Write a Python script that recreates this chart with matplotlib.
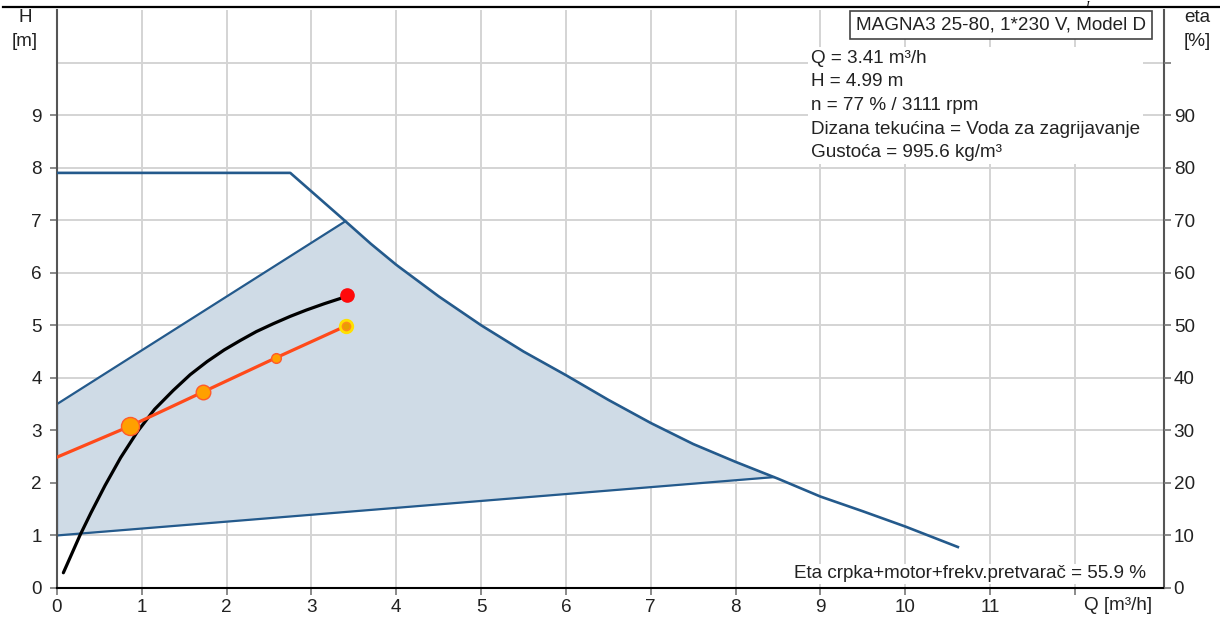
import matplotlib.pyplot as plt
from matplotlib.lines import Line2D

plt.rcParams['font.family'] = ['Liberation Sans', 'DejaVu Sans']

# max curve (H vs Q)
max_q = [0.0, 2.75, 3.40, 3.7, 4.0, 4.5, 5.0, 5.5, 6.0, 6.5, 7.0, 7.5, 8.0, 8.5, 9.0, 9.5, 10.0, 10.62]
max_h = [7.9, 7.9, 6.98, 6.55, 6.15, 5.55, 5.0, 4.5, 4.05, 3.58, 3.14, 2.74, 2.40, 2.08, 1.74, 1.46, 1.17, 0.78]

# operating area (shaded polygon)
area_q = [0.0, 0.0, 3.40, 3.7, 4.0, 4.5, 5.0, 5.5, 6.0, 6.5, 7.0, 7.5, 8.0, 8.45]
area_h = [1.0, 3.5, 6.98, 6.55, 6.15, 5.55, 5.0, 4.5, 4.05, 3.58, 3.14, 2.74, 2.40, 2.11]

# system curve
sys_q = [0.075, 0.27, 0.4, 0.566, 0.75, 0.95, 1.15, 1.37, 1.57, 1.77, 1.97, 2.16, 2.35, 2.55, 2.75, 2.94, 3.15, 3.34, 3.42]
sys_h = [0.29, 1.0, 1.43, 1.95, 2.48, 2.98, 3.40, 3.76, 4.06, 4.31, 4.53, 4.71, 4.88, 5.03, 5.17, 5.29, 5.41, 5.51, 5.58]

# efficiency line (eta, %)
eta_q = [0.0, 0.86, 1.72, 2.58, 3.41]
eta_v = [24.9, 30.8, 37.3, 43.8, 49.9]
eta_size = [0, 13, 10.5, 7, 9]

info_lines = ["Q = 3.41 m³/h", "H = 4.99 m", "n = 77 % / 3111 rpm",
              "Dizana tekućina = Voda za zagrijavanje", "Gustoća = 995.6 kg/m³"]

fs = 13.6
tc = '#222222'

fig = plt.figure(figsize=(12.2, 6.19), dpi=100)
ax = fig.add_axes([57 / 1220, 1 - 588 / 619, (1164 - 57) / 1220, (588 - 10) / 619])
ax.set_xlim(0, 13.05)
ax.set_ylim(0, 11)

grid_c = '#d4d4d4'
for g in range(0, 13):
    ax.axvline(g, color=grid_c, lw=1.4, zorder=0)
for g in range(0, 11):
    ax.axhline(g, color=grid_c, lw=1.4, zorder=0)

blue = '#245a8c'
ax.fill(area_q, area_h, color='#cfdbe6', zorder=1)
ax.plot(area_q[:3], area_h[:3], color=blue, lw=1.6, zorder=2)
ax.plot([area_q[0], area_q[-1]], [area_h[0], area_h[-1]], color=blue, lw=1.6, zorder=2)
ax.plot(max_q, max_h, color=blue, lw=1.9, zorder=3)

ax.plot(sys_q, sys_h, color='black', lw=2.3, zorder=4, solid_capstyle='round')
ax.plot(sys_q[-1], sys_h[-1], 'o', color='#ff0a0a', ms=9.5, zorder=6)

# eta on secondary scale: 10 % == 1 m
eta_h = [v / 10 for v in eta_v]
ax.plot(eta_q, eta_h, color='#ff4a1a', lw=2.3, zorder=5)
for q, h, s in zip(eta_q[1:-1], eta_h[1:-1], eta_size[1:-1]):
    ax.plot(q, h, 'o', ms=s, color='#ffa000', mec='#ff5a2a', mew=1.0, zorder=6)
ax.plot(eta_q[-1], eta_h[-1], 'o', ms=eta_size[-1], color='#ff8c1a', mec='#ffe000', mew=2.0, zorder=6)
ax.plot(eta_q[-1], eta_h[-1], 'o', ms=3.5, color='#e8a000', zorder=7)

ax.spines['top'].set_visible(False)
ax.spines['left'].set_color('#555555')
ax.spines['right'].set_color('#555555')
ax.spines['bottom'].set_color('black')
for s in ax.spines.values():
    s.set_linewidth(1.5)

ax.set_xticks(range(13))
ax.set_xticklabels([str(i) for i in range(12)] + [''])
ax.set_yticks(range(10))
ax.tick_params(axis='x', colors='#777777', labelcolor=tc, labelsize=fs, length=5, width=1.2, pad=3)
ax.tick_params(axis='y', colors='#777777', labelcolor=tc, labelsize=fs, length=5, width=1.2, pad=6)

ax2 = ax.twinx()
ax2.set_ylim(0, 110)
ax2.set_yticks(range(0, 101, 10))
ax2.set_yticklabels([str(i) for i in range(0, 100, 10)] + [''])
ax2.tick_params(axis='y', colors='#777777', labelcolor=tc, labelsize=fs, length=5, width=1.2, pad=2)
for s in ax2.spines.values():
    s.set_visible(False)

fig.text(25 / 1220, 1 - 18 / 619, "H", ha='center', va='center', fontsize=fs, color=tc)
fig.text(25 / 1220, 1 - 41 / 619, "[m]", ha='center', va='center', fontsize=fs, color=tc)
fig.text(1197 / 1220, 1 - 18 / 619, "eta", ha='center', va='center', fontsize=fs, color=tc)
fig.text(1197 / 1220, 1 - 42 / 619, "[%]", ha='center', va='center', fontsize=fs, color=tc)
fig.text(1118 / 1220, 1 - 606 / 619, "Q [m³/h]", ha='center', va='center', fontsize=fs, color=tc)

fig.text(1001 / 1220, 1 - 25 / 619, "MAGNA3 25-80, 1*230 V, Model D", ha='center', va='center',
         fontsize=fs, color=tc,
         bbox=dict(boxstyle='square,pad=0.3', fc='white', ec='#444444', lw=1.2))

fig.text(811 / 1220, 1 - 50 / 619, "\n".join(info_lines), ha='left', va='top',
         fontsize=fs, color=tc, linespacing=1.5,
         bbox=dict(boxstyle='square,pad=0.15', fc='white', ec='none'))

fig.text(1146 / 1220, 1 - 574 / 619, "Eta crpka+motor+frekv.pretvarač = 55.9 %", ha='right', va='center',
         fontsize=fs, color=tc, bbox=dict(boxstyle='square,pad=0.1', fc='white', ec='none'))

fig.add_artist(Line2D([3 / 1220, 1.0], [1 - 7 / 619, 1 - 7 / 619], color='black', lw=1.6))
fig.text(1087 / 1220, 1 - 1 / 619, "I", ha='center', va='top', fontsize=8,
         family='Liberation Serif', style='italic', color='black')

fig.savefig('out.png', dpi=100)
